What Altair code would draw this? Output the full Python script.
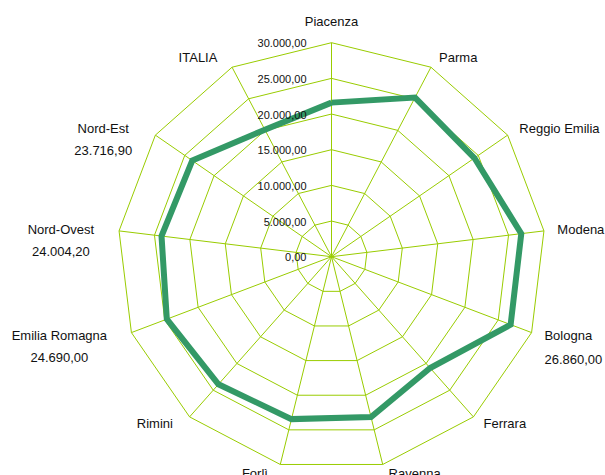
import math
import altair as alt
import pandas as pd

# ---------------- data ----------------
categories = ["Piacenza", "Parma", "Reggio Emilia", "Modena", "Bologna", "Ferrara",
              "Ravenna", "Forlì", "Rimini", "Emilia Romagna", "Nord-Ovest", "Nord-Est", "ITALIA"]
values = [21600, 25200, 24350, 26800, 26860.0, 20850, 23150, 23450, 23900,
          24690.0, 24004.2, 23716.9, 20100]
labelled = ["Bologna", "Emilia Romagna", "Nord-Ovest", "Nord-Est"]
tick_levels = [0, 5000, 10000, 15000, 20000, 25000, 30000]

# ---------------- layout helpers ----------------
W, H = 605, 475
CX, CY = 331.5, 256.7          # centre of the radar, pixels
RMAX_PX = 214.0                # pixel radius of the 30.000 ring
VMAX = 30000.0
K = VMAX / RMAX_PX             # value units per pixel
N = len(categories)

GRID = "#99CC00"
LINE = "#339966"
FONT = "Liberation Sans"

def fmt_it(v):
    s = f"{v:,.2f}"
    return s.replace(",", "X").replace(".", ",").replace("X", ".")

AW = {c: 556 for c in "0123456789"}
AW.update({"A": 667, "B": 667, "E": 667, "I": 278, "L": 556, "N": 722, "O": 778, "R": 722, "T": 611,
           "a": 556, "d": 556, "e": 556, "g": 556, "i": 222, "l": 222, "m": 833, "n": 556, "o": 556,
           "r": 333, "s": 500, "t": 278, "v": 500, ".": 278, ",": 278, "-": 333, " ": 278})

def text_w(s, size=13):
    return sum(AW.get(c, 556) for c in s) * size / 1000.0

angles = [2 * math.pi * i / N for i in range(N)]

# rings
ring_rows = []
for lv in tick_levels[1:]:
    for j in range(N + 1):
        a = angles[j % N]
        ring_rows.append({"level": lv, "o": j, "x": lv * math.sin(a), "y": lv * math.cos(a)})
rings_df = pd.DataFrame(ring_rows)

# spokes
spoke_df = pd.DataFrame({
    "cat": categories,
    "x0": [0.0] * N, "y0": [0.0] * N,
    "x1": [VMAX * math.sin(a) for a in angles],
    "y1": [VMAX * math.cos(a) for a in angles],
})

# data line (closed)
line_rows = []
for j in range(N + 1):
    i = j % N
    a = angles[i]
    line_rows.append({"cat": categories[i], "o": j, "v": values[i],
                      "x": values[i] * math.sin(a), "y": values[i] * math.cos(a)})
line_df = pd.DataFrame(line_rows)

# tick labels
tick_df = pd.DataFrame({
    "t": [fmt_it(v) for v in tick_levels],
    "x": [-25 * K] * len(tick_levels),
    "y": tick_levels,
})

# category labels
R_LAB = 224 * K
right_rows, left_rows, left2_rows, val_r_rows, val_l_rows = [], [], [], [], []
for i, c in enumerate(categories):
    a = angles[i]
    lx, ly = R_LAB * math.sin(a), R_LAB * math.cos(a)
    s = math.sin(a)
    has_val = c in labelled
    vtxt = fmt_it(values[i])
    if abs(s) < 0.1:
        right_rows.append({"t": c, "x": lx, "y": ly, "al": "center"})
    elif s > 0:
        right_rows.append({"t": c, "x": lx, "y": ly, "al": "left"})
        if has_val:
            val_r_rows.append({"t": vtxt, "x": lx, "y": ly})
    else:
        if has_val:
            w = max(text_w(c), text_w(vtxt))
            cxb = lx - 15 * K - (w / 2) * K
            left2_rows.append({"t": c, "x": cxb, "y": ly})
            val_l_rows.append({"t": vtxt, "x": cxb, "y": ly})
        else:
            left_rows.append({"t": c, "x": lx, "y": ly})

xs = alt.Scale(domain=[-CX * K, (W - CX) * K], zero=False, nice=False)
ys = alt.Scale(domain=[-(H - CY) * K, CY * K], zero=False, nice=False)

def X(f="x"):
    return alt.X(f"{f}:Q", scale=xs, axis=None)

def Y(f="y"):
    return alt.Y(f"{f}:Q", scale=ys, axis=None)

rings = alt.Chart(rings_df).mark_line(color=GRID, strokeWidth=1, strokeJoin="miter").encode(
    x=X(), y=Y(), detail="level:N", order="o:Q")

spokes = alt.Chart(spoke_df).mark_rule(color=GRID, strokeWidth=1).encode(
    x=X("x0"), y=Y("y0"), x2="x1:Q", y2="y1:Q")

data_line = alt.Chart(line_df).mark_line(color=LINE, strokeWidth=6, strokeJoin="miter").encode(
    x=X(), y=Y(), order="o:Q")

txt = dict(font=FONT, fontSize=13, color="#111111", baseline="middle")

ticks = alt.Chart(tick_df).mark_text(font=FONT, fontSize=11, color="#111111", align="right",
                                     baseline="middle", dy=1.5).encode(x=X(), y=Y(), text="t:N")

lab_center = alt.Chart(pd.DataFrame([r for r in right_rows if r["al"] == "center"])).mark_text(
    align="center", dy=-11, **txt).encode(x=X(), y=Y(), text="t:N")
lab_right = alt.Chart(pd.DataFrame([r for r in right_rows if r["al"] == "left"])).mark_text(
    align="left", dx=3.5, **txt).encode(x=X(), y=Y(), text="t:N")
lab_left = alt.Chart(pd.DataFrame(left_rows)).mark_text(
    align="right", dx=-10, **txt).encode(x=X(), y=Y(), text="t:N")
lab_left2 = alt.Chart(pd.DataFrame(left2_rows)).mark_text(
    align="center", **txt).encode(x=X(), y=Y(), text="t:N")
val_right = alt.Chart(pd.DataFrame(val_r_rows)).mark_text(
    align="left", dx=3.5, dy=24, **txt).encode(x=X(), y=Y(), text="t:N")
val_left = alt.Chart(pd.DataFrame(val_l_rows)).mark_text(
    align="center", dy=22, **txt).encode(x=X(), y=Y(), text="t:N")

chart = alt.layer(rings, spokes, data_line, ticks, lab_center, lab_right, lab_left,
                  lab_left2, val_right, val_left).properties(
    width=W, height=H, autosize=alt.AutoSizeParams(type="none"), padding=0,
    background="white",
).configure_view(strokeWidth=0)

chart.save("out.html", embed_options={"renderer": "svg", "actions": False})
